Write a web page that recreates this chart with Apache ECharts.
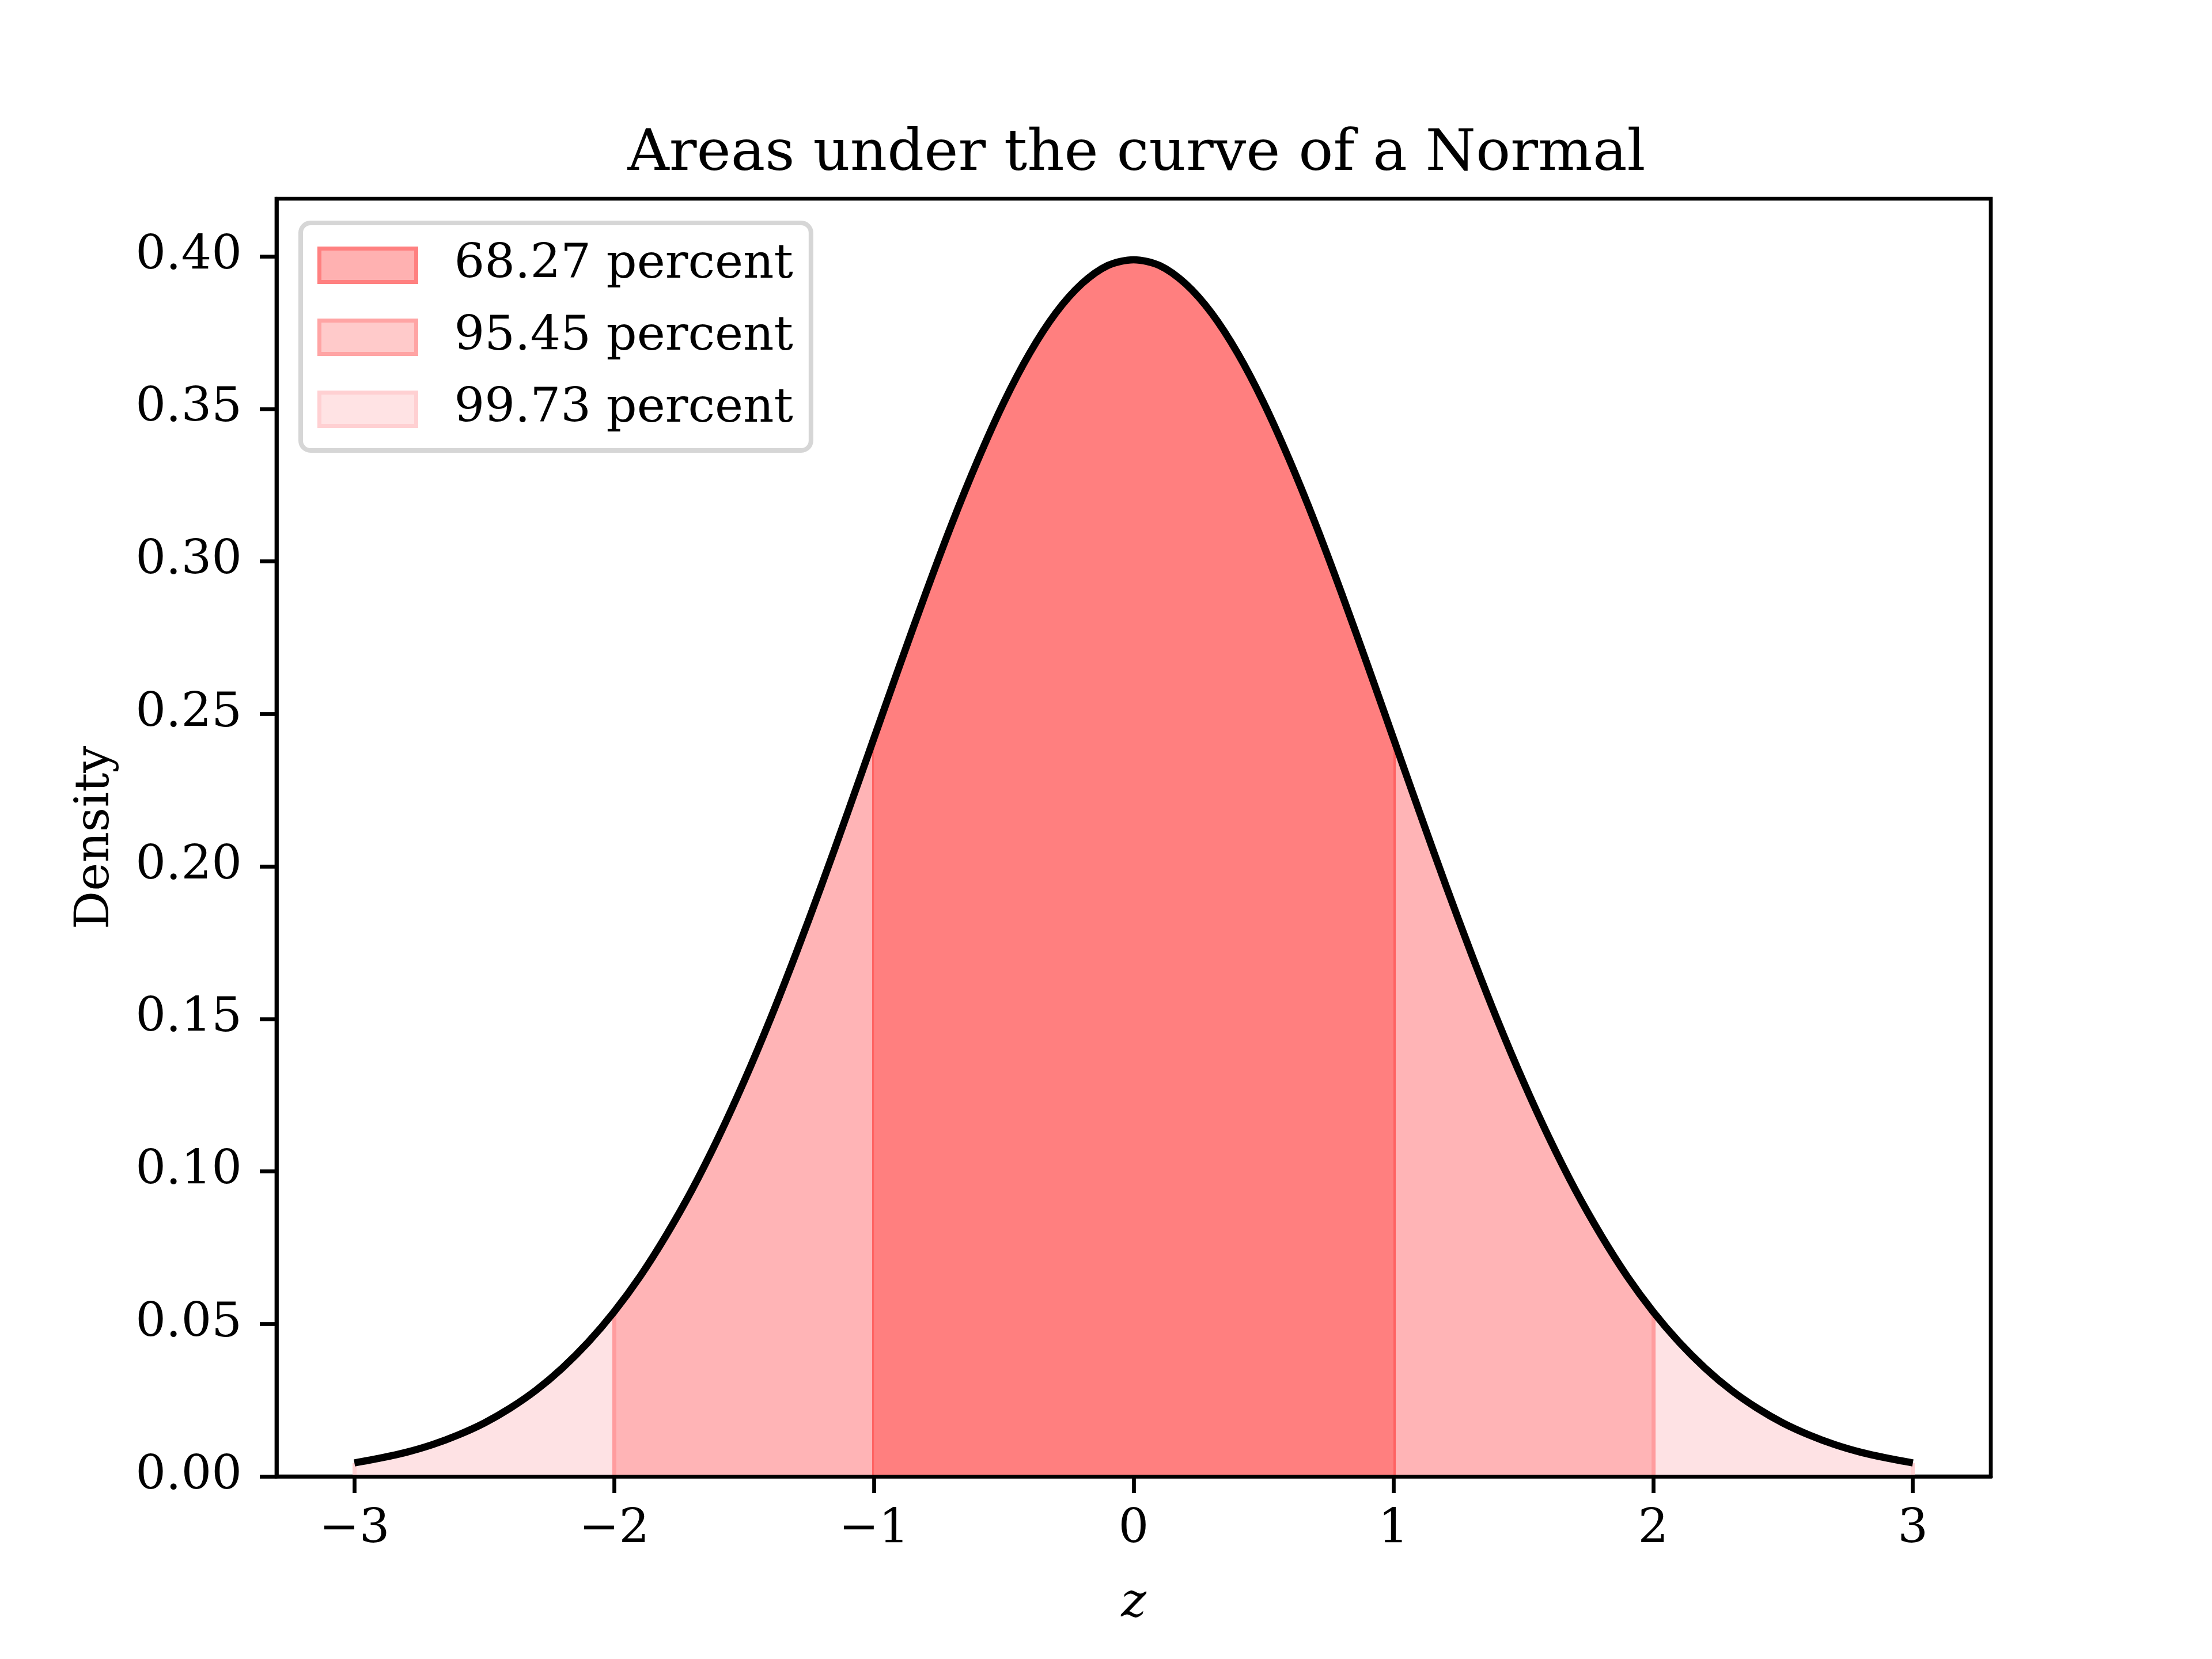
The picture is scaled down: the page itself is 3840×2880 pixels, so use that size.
<!DOCTYPE html>
<html>
<head>
<meta charset="utf-8">
<script src="https://cdn.jsdelivr.net/npm/echarts@6/dist/echarts.min.js"></script>
<style>
  html, body { margin: 0; padding: 0; background: #fff; }
  #chart { width: 3840px; height: 2880px; }
</style>
</head>
<body>
<div id="chart"></div>
<script>
// ---- data ----
const zValues = [
  -3.0, -2.9, -2.8, -2.7, -2.6, -2.5, -2.4, -2.3, -2.2, -2.1,
  -2.0, -1.9, -1.8, -1.7, -1.6, -1.5, -1.4, -1.3, -1.2, -1.1,
  -1.0, -0.9, -0.8, -0.7, -0.6, -0.5, -0.4, -0.3, -0.2, -0.1,
   0.0,  0.1,  0.2,  0.3,  0.4,  0.5,  0.6,  0.7,  0.8,  0.9,
   1.0,  1.1,  1.2,  1.3,  1.4,  1.5,  1.6,  1.7,  1.8,  1.9,
   2.0,  2.1,  2.2,  2.3,  2.4,  2.5,  2.6,  2.7,  2.8,  2.9,
   3.0
];
const density = [
  0.0044, 0.0060, 0.0079, 0.0104, 0.0136, 0.0175, 0.0224, 0.0283, 0.0355, 0.0440,
  0.0540, 0.0656, 0.0790, 0.0940, 0.1109, 0.1295, 0.1497, 0.1714, 0.1942, 0.2179,
  0.2420, 0.2661, 0.2897, 0.3123, 0.3332, 0.3521, 0.3683, 0.3814, 0.3910, 0.3970,
  0.3989,
  0.3970, 0.3910, 0.3814, 0.3683, 0.3521, 0.3332, 0.3123, 0.2897, 0.2661, 0.2420,
  0.2179, 0.1942, 0.1714, 0.1497, 0.1295, 0.1109, 0.0940, 0.0790, 0.0656, 0.0540,
  0.0440, 0.0355, 0.0283, 0.0224, 0.0175, 0.0136, 0.0104, 0.0079, 0.0060, 0.0044
];
const bandLimits = [1, 2, 3];
const bandNames = ['68.27 percent', '95.45 percent', '99.73 percent'];
const xTicks = [-3, -2, -1, 0, 1, 2, 3];
const yTicks = [0, 0.05, 0.10, 0.15, 0.20, 0.25, 0.30, 0.35, 0.40];

// ---- styles ----
const FONT = 'DejaVu Serif';
const fillColors = ['#ff7f7f', '#ffb4b6', '#fee2e4'];
const edgeColors = ['#ff6262', '#ff9c9e', '#ffd0d2'];
const legendFace = ['#ffb1b1', '#ffcaca', '#ffe3e4'];
const legendEdge = ['#ff8080', '#ffa4a4', '#ffd0d2'];

const curve = zValues.map((z, i) => [z, density[i]]);
function densityAt(z) {
  const i = zValues.findIndex(v => Math.abs(v - z) < 1e-9);
  return density[i];
}
const minus = v => String(v).replace('-', '\u2212');

// bands: draw widest first so narrower ones sit on top
const bandSeries = [];
for (let k = bandLimits.length - 1; k >= 0; k--) {
  const lim = bandLimits[k];
  bandSeries.push({
    name: bandNames[k],
    type: 'line',
    data: curve.filter(p => Math.abs(p[0]) <= lim + 1e-9),
    smooth: 0.3,
    showSymbol: false,
    symbol: 'none',
    silent: true,
    lineStyle: { width: 0, opacity: 0 },
    areaStyle: { color: fillColors[k], opacity: 1 },
    color: fillColors[k],
    z: 2 + (bandLimits.length - k),
    markLine: {
      silent: true,
      symbol: 'none',
      label: { show: false },
      lineStyle: { color: edgeColors[k], width: 7, type: 'solid' },
      data: [-lim, lim].map(z => [
        { coord: [z, 0] },
        { coord: [z, densityAt(z)] }
      ])
    }
  });
}

const chart = echarts.init(document.getElementById('chart'), null, { renderer: 'canvas' });
chart.setOption({
  animation: false,
  backgroundColor: '#fff',
  title: {
    text: 'Areas under the curve of a Normal',
    left: 1968,
    top: 214,
    textAlign: 'center',
    textStyle: { fontFamily: FONT, fontSize: 100, fontWeight: 'normal', color: '#000' }
  },
  legend: {
    orient: 'vertical',
    left: 522,
    top: 387,
    itemWidth: 168,
    itemHeight: 58,
    itemGap: 42,
    padding: [32, 31, 30, 29],
    backgroundColor: 'rgba(255,255,255,0.8)',
    borderColor: '#d6d6d6',
    borderWidth: 8,
    borderRadius: 17,
    selectedMode: false,
    textStyle: { fontFamily: FONT, fontSize: 83, color: '#000', padding: [0, 0, 0, 61] },
    data: bandNames.map((n, k) => ({
      name: n,
      icon: 'rect',
      itemStyle: { color: legendFace[k], borderColor: legendEdge[k], borderWidth: 7 }
    }))
  },
  grid: {
    left: 480, right: 384, top: 345, bottom: 317,
    show: true, borderColor: '#000', borderWidth: 6.7, backgroundColor: 'transparent'
  },
  xAxis: {
    type: 'value',
    min: -3.3, max: 3.3,
    z: 10,
    name: 'z',
    nameLocation: 'middle',
    nameGap: 180,
    nameTextStyle: { fontFamily: FONT, fontStyle: 'italic', fontSize: 83, color: '#000' },
    splitLine: { show: false },
    axisLine: { show: true, onZero: false, lineStyle: { color: '#000', width: 6.7 } },
    axisTick: { show: true, length: 29, lineStyle: { color: '#000', width: 6.7 }, customValues: xTicks },
    axisLabel: {
      fontFamily: FONT, fontSize: 83, color: '#000', margin: 52,
      customValues: xTicks, formatter: v => minus(v)
    }
  },
  yAxis: {
    type: 'value',
    min: 0, max: 0.4189,
    z: 10,
    name: 'Density',
    nameLocation: 'middle',
    nameGap: 272,
    nameRotate: 90,
    nameTextStyle: { fontFamily: FONT, fontSize: 83, color: '#000' },
    splitLine: { show: false },
    axisLine: { show: true, onZero: false, lineStyle: { color: '#000', width: 6.7 } },
    axisTick: { show: true, length: 29, lineStyle: { color: '#000', width: 6.7 }, customValues: yTicks },
    axisLabel: {
      fontFamily: FONT, fontSize: 83, color: '#000', margin: 60,
      padding: [24, 0, 0, 0],
      customValues: yTicks, formatter: v => v.toFixed(2)
    }
  },
  series: bandSeries.concat([{
    name: 'curve',
    type: 'line',
    data: curve,
    smooth: 0.3,
    showSymbol: false,
    symbol: 'none',
    silent: true,
    z: 8,
    lineStyle: { color: '#000', width: 12.5 }
  }])
});
</script>
</body>
</html>
